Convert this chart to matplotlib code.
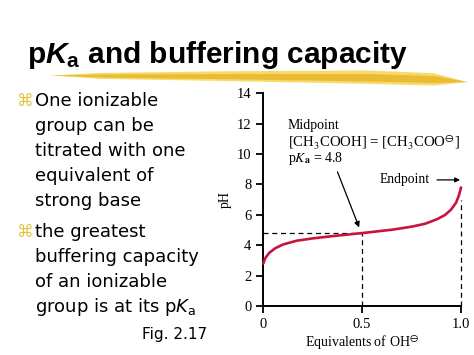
import matplotlib
matplotlib.use('Agg')
import matplotlib.pyplot as plt

# Datos de la curva de titulacion
equivalentes = [0, 0.01, 0.03, 0.06, 0.10, 0.17, 0.25, 0.35, 0.50, 0.65, 0.75,
                0.82, 0.88, 0.92, 0.95, 0.975, 0.99, 1.0]
ph = [2.8, 3.15, 3.5, 3.8, 4.05, 4.3, 4.45, 4.6, 4.8, 5.02, 5.22,
      5.42, 5.72, 6.0, 6.35, 6.8, 7.3, 7.8]
pka = 4.8
punto_medio = 0.5
punto_final = 1.0
ph_final = 7.0

y_ticks = [0, 2, 4, 6, 8, 10, 12, 14]
x_ticks = [0, 0.5, 1.0]
x_tick_labels = ['0', '0.5', '1.0']

bullet_1 = ['One ionizable', 'group can be', 'titrated with one',
            'equivalent of', 'strong base']
bullet_2 = ['the greatest', 'buffering capacity', 'of an ionizable',
            r'group is at its p$K_{\mathrm{a}}$']

plt.rcParams['mathtext.fontset'] = 'custom'
plt.rcParams['mathtext.rm'] = 'Liberation Sans:bold'
plt.rcParams['mathtext.it'] = 'Liberation Sans:bold:italic'

W, H = 474, 355
fig = plt.figure(figsize=(W / 100, H / 100), dpi=100)
fig.patch.set_facecolor('white')

# Capa de fondo en coordenadas de pixel
bg = fig.add_axes([0, 0, 1, 1])
bg.set_xlim(0, W)
bg.set_ylim(H, 0)
bg.axis('off')

# Trazo amarillo bajo el titulo
top_x = [50, 100, 233, 367, 433, 467]
top_y = [75, 72.5, 70.7, 70, 72.7, 81.5]
bot_y = [75, 78.3, 80.7, 83.3, 85, 81.5]
bg.fill_between(top_x, top_y, bot_y, color='#F6DA6A', lw=0)
bg.fill_between(top_x, [75, 74, 73.5, 73.5, 75.5, 81.5], [75, 77, 78.8, 81, 82.5, 81.5],
                color='#E8B426', lw=0, alpha=0.8)

# Titulo
bg.text(27, 63, r'p$K_{\mathrm{a}}$ and buffering capacity', fontsize=21.5,
        fontfamily='Liberation Sans', fontweight='bold', va='baseline',
        ha='left', math_fontfamily='custom')

# Viñetas
for i, linea in enumerate(bullet_1):
    bg.text(35, 106 + 25 * i, linea, fontsize=13, fontfamily='DejaVu Sans',
            va='baseline', math_fontfamily='dejavusans')
for i, linea in enumerate(bullet_2):
    bg.text(35, 237 + 25 * i, linea, fontsize=13, fontfamily='DejaVu Sans',
            va='baseline', math_fontfamily='dejavusans')
for yb in [106, 237]:
    bg.text(17, yb, '\u2318', fontsize=12, color='#E3C13A',
            fontfamily='DejaVu Sans', va='baseline')
bg.text(207, 339, 'Fig. 2.17', fontsize=11, fontfamily='DejaVu Sans',
        va='baseline', ha='right')

# Grafico de titulacion
ax = fig.add_axes([263.3 / W, 1 - 306 / H, 197.7 / W, 212.7 / H])
ax.patch.set_alpha(0)
serif = ['Liberation Serif', 'DejaVu Serif']

ax.plot(equivalentes, ph, color='#C8143C', lw=1.9, solid_capstyle='round',
        zorder=3, clip_on=False)
ax.plot([0, punto_medio], [pka, pka], color='black', lw=0.9, ls=(0, (4, 3)))
ax.plot([punto_medio, punto_medio], [0, pka], color='black', lw=0.9,
        ls=(0, (4, 3)))
ax.plot([punto_final, punto_final], [0, ph_final], color='black', lw=0.9,
        ls=(0, (4, 3)), clip_on=False)

ax.set_xlim(0, 1.0)
ax.set_ylim(0, 14)
ax.set_xticks(x_ticks)
ax.set_xticklabels(x_tick_labels)
ax.set_yticks(y_ticks)
for lab in ax.get_xticklabels() + ax.get_yticklabels():
    lab.set_fontfamily(serif)
    lab.set_fontsize(10.5)
ax.tick_params(direction='out', length=5, width=1.3)
ax.spines['top'].set_visible(False)
ax.spines['right'].set_visible(False)
ax.spines['left'].set_linewidth(1.4)
ax.spines['bottom'].set_linewidth(1.4)

ax.set_ylabel('pH', fontfamily=serif, fontsize=10)
ax.set_xlabel(r'Equivalents of OH$^{\ominus}$', fontfamily=serif, fontsize=10,
              math_fontfamily='stix', labelpad=2)

ax.text(0.125, 11.9, 'Midpoint', fontfamily=serif, fontsize=10, va='center')
ax.text(0.125, 10.8, r'[CH$_3$COOH] = [CH$_3$COO$^{\ominus}$]', fontfamily=serif,
        fontsize=10.6, va='center', math_fontfamily='stix')
ax.text(0.125, 9.74, r'p$K_{\mathbf{a}}$ = 4.8', fontfamily=serif, fontsize=10,
        va='center', math_fontfamily='stix')

ax.annotate('', xy=(0.49, 5.0), xytext=(0.37, 9.0),
            arrowprops=dict(arrowstyle='-|>', color='black', lw=0.9,
                            mutation_scale=8))
ax.annotate('Endpoint', xy=(0.995, 8.3), xytext=(0.59, 8.3),
            fontfamily=serif, fontsize=9.8, va='center',
            arrowprops=dict(arrowstyle='-|>', color='black', lw=0.9,
                            mutation_scale=7, shrinkA=3, shrinkB=0))

fig.savefig('out.png', dpi=100)
